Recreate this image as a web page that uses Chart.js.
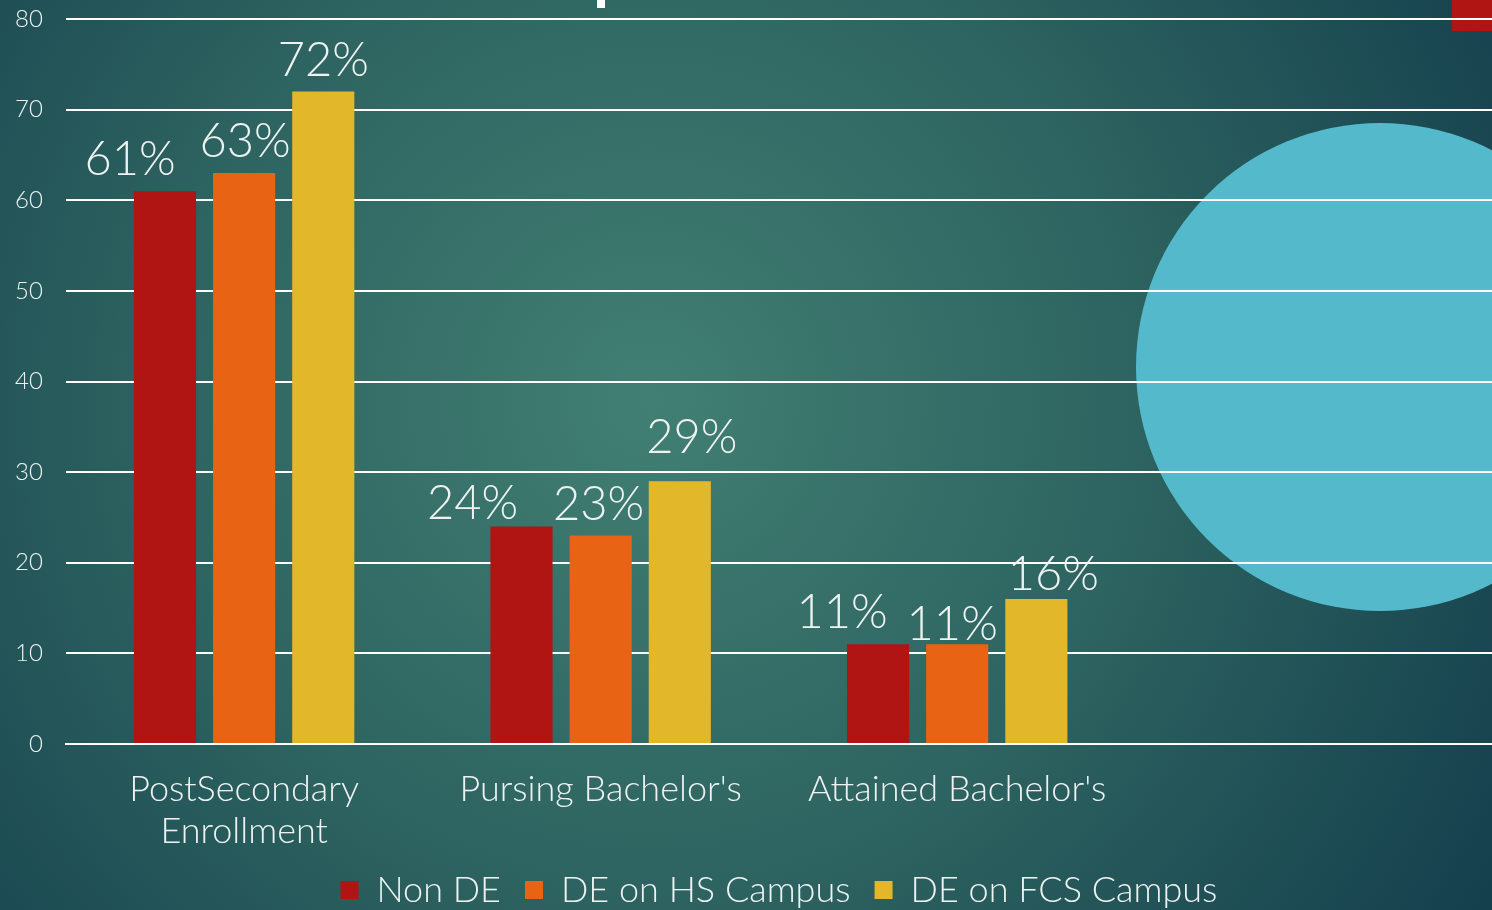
<!DOCTYPE html>
<html>
<head>
<meta charset="utf-8">
<script src="https://cdn.jsdelivr.net/npm/chart.js@4.4.1/dist/chart.umd.min.js"></script>
<style>
html,body{margin:0;padding:0;overflow:hidden;background:#2a5f5f;}
#wrap{width:1492px;height:910px;position:relative;}
</style>
</head>
<body>
<div id="wrap"><canvas id="c" width="1492" height="910"></canvas></div>
<script>
// ---- data ----
const categories = [["PostSecondary","Enrollment"], "Pursing Bachelor's", "Attained Bachelor's", ""];
const seriesNames = ["Non DE", "DE on HS Campus", "DE on FCS Campus"];
const nonDE = [61, 24, 11, null];
const deHS = [63, 23, 11, null];
const deFCS = [72, 29, 16, null];
const yTicks = [0, 10, 20, 30, 40, 50, 60, 70, 80];

const colors = ["#b01513", "#e86313", "#e3b72a"];
const FONT = "Lato, 'Open Sans', sans-serif";
const TXT = "#eef3f2";

// label nudges (style only), per dataset per category [dx, dy]
const labelNudge = [
  [[-35, 0], [-49, 8], [-36, 0]],
  [[1, 0], [-2, 0], [-5, 12]],
  [[0, 0], [12, -12], [17, 7]]
];

const bgPlugin = {
  id: 'bg',
  beforeDraw(chart) {
    const ctx = chart.ctx, w = chart.width, h = chart.height;
    ctx.save();
    const g = ctx.createRadialGradient(650, 400, 0, 650, 400, 980);
    g.addColorStop(0, '#417f73');
    g.addColorStop(0.5, '#2d6360');
    g.addColorStop(1, '#143f4d');
    ctx.fillStyle = g;
    ctx.fillRect(0, 0, w, h);
    ctx.fillStyle = '#53b9cb';
    ctx.beginPath();
    ctx.arc(1380, 367, 244, 0, Math.PI * 2);
    ctx.fill();
    ctx.fillStyle = '#b01513';
    ctx.fillRect(1452, 0, 40, 31);
    ctx.fillStyle = '#ffffff';
    ctx.fillRect(597, 0, 8, 8);
    ctx.restore();
  }
};

const labelPlugin = {
  id: 'vlabels',
  afterDatasetsDraw(chart) {
    const ctx = chart.ctx;
    ctx.save();
    ctx.font = "300 47px " + FONT;
    ctx.fillStyle = TXT;
    ctx.textAlign = 'center';
    ctx.textBaseline = 'alphabetic';
    chart.data.datasets.forEach((ds, di) => {
      const meta = chart.getDatasetMeta(di);
      meta.data.forEach((bar, i) => {
        const v = ds.data[i];
        if (v == null) return;
        const n = (labelNudge[di] && labelNudge[di][i]) || [0, 0];
        ctx.fillText(v + '%', bar.x + n[0], bar.y - 16 + n[1]);
      });
    });
    ctx.restore();
  }
};

new Chart(document.getElementById('c'), {
  type: 'bar',
  data: {
    labels: categories,
    datasets: [
      { label: seriesNames[0], data: nonDE, backgroundColor: colors[0] },
      { label: seriesNames[1], data: deHS, backgroundColor: colors[1] },
      { label: seriesNames[2], data: deFCS, backgroundColor: colors[2] }
    ]
  },
  options: {
    responsive: false,
    animation: false,
    devicePixelRatio: 1,
    categoryPercentage: 0.666,
    barPercentage: 0.785,
    layout: { padding: { top: 19, left: -8, right: 0, bottom: -8 } },
    plugins: {
      legend: {
        position: 'bottom',
        fullSize: false,
        labels: {
          color: TXT,
          font: { family: FONT, size: 36, weight: 300 },
          boxWidth: 18, boxHeight: 18,
          padding: 24
        }
      },
      tooltip: { enabled: false }
    },
    scales: {
      x: {
        afterFit(scale) { scale.height = 104; },
        grid: { display: false, drawTicks: false },
        border: { display: true, color: '#ffffff', width: 2 },
        ticks: { color: TXT, font: { family: FONT, size: 36, weight: 300, lineHeight: 1.17 }, padding: 24, maxRotation: 0, autoSkip: false }
      },
      y: {
        min: 0, max: 80,
        afterBuildTicks(axis) { axis.ticks = yTicks.map(v => ({ value: v })); },
        afterFit(scale) { scale.paddingTop = 0; },
        grid: { color: '#ffffff', lineWidth: 2, drawTicks: false },
        border: { display: false },
        ticks: { color: TXT, font: { family: FONT, size: 24, weight: 300 }, padding: 23 }
      }
    }
  },
  plugins: [bgPlugin, labelPlugin]
});
</script>
</body>
</html>
